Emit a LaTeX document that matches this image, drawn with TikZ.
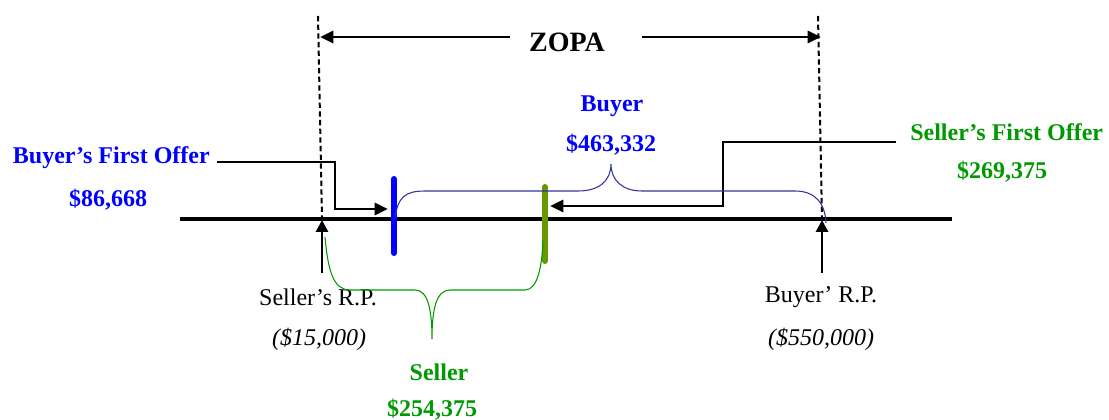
\documentclass[tikz,border=0pt]{standalone}
\usepackage{fontspec}
\setmainfont{Liberation Serif}
\usetikzlibrary{arrows.meta}
\definecolor{sellergreen}{RGB}{0,153,0}
\definecolor{olivebar}{RGB}{102,153,0}
\definecolor{bracenavy}{RGB}{51,51,160}
\begin{document}
\begin{tikzpicture}[x=0.75pt,y=-0.75pt,
    lbl/.style={inner sep=0pt,font=\fontsize{18}{20}\selectfont},
    boldlbl/.style={inner sep=0pt,font=\fontsize{18}{20}\selectfont\bfseries},
    itlbl/.style={inner sep=0pt,font=\fontsize{18}{20}\selectfont\itshape},
    guide/.style={line width=1.5pt,dash pattern=on 4pt off 2.5pt},
    axisline/.style={line width=2.6pt},
    offerline/.style={line width=2.2pt},
    steptip/.style={-{Triangle[length=10pt,width=9pt]}},
    uptip/.style={line width=2.2pt,-{Triangle[length=9pt,width=9pt]}},
    bar/.style={line width=4.5pt,line cap=round}]
  \useasboundingbox (0,0) rectangle (1109,420);

  % dashed guides and ZOPA
  \coordinate (dashLtop) at (318,16);
  \coordinate (dashLbot) at (322,219);
  \coordinate (dashRtop) at (818,16);
  \coordinate (dashRbot) at (822,219);
  \draw[guide] (dashLtop) -- (dashLbot);
  \draw[guide] (dashRtop) -- (dashRbot);
  \node[boldlbl,font=\fontsize{21}{24}\selectfont\bfseries] (zopa) at (567,42) {ZOPA};
  \coordinate (zopaL) at (510,37);
  \coordinate (zopaLtip) at (320,37);
  \coordinate (zopaR) at (642,37);
  \coordinate (zopaRtip) at (821,37);
  \draw[offerline,steptip] (zopaL) -- (zopaLtip);
  \draw[offerline,steptip] (zopaR) -- (zopaRtip);

  % axis
  \coordinate (axL) at (180,219);
  \coordinate (axR) at (952,219);
  \draw[axisline] (axL) -- (axR);

  % buyer's first offer
  \node[boldlbl,text=blue,anchor=east] (bfo) at (210,158) {Buyer’s First Offer};
  \node[boldlbl,text=blue] (bfoval) at (108,200) {\$86,668};
  \coordinate (bfoStart) at (217,162);
  \coordinate (bfoKnee) at (335,162);
  \coordinate (bfoDrop) at (335,209);
  \coordinate (bfoTip) at (388,209);
  \draw[offerline,steptip] (bfoStart) -- (bfoKnee) -- (bfoDrop) -- (bfoTip);

  % seller's first offer
  \node[boldlbl,text=sellergreen,anchor=west] (sfo) at (910,132) {Seller’s First Offer};
  \node[boldlbl,text=sellergreen] (sfoval) at (1002,172) {\$269,375};
  \coordinate (sfoStart) at (896,142);
  \coordinate (sfoKnee) at (723,142);
  \coordinate (sfoDrop) at (723,206);
  \coordinate (sfoTip) at (550,206);
  \draw[offerline,steptip] (sfoStart) -- (sfoKnee) -- (sfoDrop) -- (sfoTip);

  % bars
  \coordinate (blueTop) at (394,179);
  \coordinate (blueBot) at (394,253);
  \coordinate (oliveTop) at (545,187);
  \coordinate (oliveBot) at (545,261);
  \draw[bar,blue] (blueTop) -- (blueBot);
  \draw[bar,olivebar] (oliveTop) -- (oliveBot);

  % buyer brace
  \node[boldlbl,text=blue] (buyer) at (612,106) {Buyer};
  \node[boldlbl,text=blue] (buyerval) at (611,145) {\$463,332};
  \coordinate (bbL) at (395,218);
  \coordinate (bbTip) at (611,164);
  \coordinate (bbR) at (826,223);
  \draw[bracenavy,line width=0.8pt] (bbL) .. controls (398,197) and (405,191) .. (425,191)
    -- (578,191) .. controls (600,191) and (611,180) .. (bbTip)
    .. controls (611,180) and (622,191) .. (642,191)
    -- (795,191) .. controls (815,191) and (825,203) .. (bbR);

  % reservation points
  \coordinate (srpFoot) at (322,273);
  \coordinate (srpTip) at (322,220);
  \coordinate (brpFoot) at (822,273);
  \coordinate (brpTip) at (822,220);
  \draw[uptip] (srpFoot) -- (srpTip);
  \draw[uptip] (brpFoot) -- (brpTip);
  \node[lbl] (srp) at (318,297) {Seller’s R.P.};
  \node[itlbl] (srpval) at (319,339) {(\$15,000)};
  \node[lbl] (brp) at (821,297) {Buyer’ R.P.};
  \node[itlbl] (brpval) at (821,339) {(\$550,000)};

  % seller brace
  \node[boldlbl,text=sellergreen] (seller) at (439,372) {Seller};
  \node[boldlbl,text=sellergreen] (sellerval) at (432,410) {\$254,375};
  \coordinate (sbL) at (325,237);
  \coordinate (sbTip) at (432,339);
  \coordinate (sbR) at (543,241);
  \draw[sellergreen,line width=0.8pt] (sbL) .. controls (328,270) and (333,290) .. (350,290)
    -- (415,290) .. controls (428,290) and (432,310) .. (sbTip)
    .. controls (432,310) and (436,290) .. (450,290)
    -- (525,290) .. controls (538,290) and (542,265) .. (sbR);
\end{tikzpicture}
\end{document}
